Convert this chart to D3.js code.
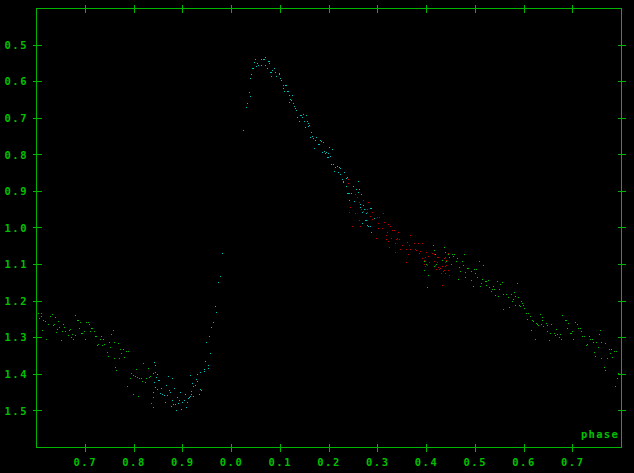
<!DOCTYPE html>
<html><head><meta charset="utf-8">
<script src="https://cdn.jsdelivr.net/npm/d3@7"></script>
<style>html,body{margin:0;padding:0;background:#000;}svg{display:block;}</style>
</head><body><svg id="c" width="634" height="473"></svg>
<script>
// ---- tick values / labels ----
const xTickValues = [-0.3,-0.2,-0.1,0.0,0.1,0.2,0.3,0.4,0.5,0.6,0.7];
const xTickLabels = ["0.7","0.8","0.9","0.0","0.1","0.2","0.3","0.4","0.5","0.6","0.7"];
const yTickValues = [0.5,0.6,0.7,0.8,0.9,1.0,1.1,1.2,1.3,1.4,1.5];
const yTickLabels = ["0.5","0.6","0.7","0.8","0.9","1.0","1.1","1.2","1.3","1.4","1.5"];
const xTitle = "phase";

// ---- observations: [phase, magnitude] ----
const greenPoints = [
[-0.398,1.220],[-0.394,1.234],[-0.389,1.234],[-0.392,1.250],[-0.388,1.242],[-0.384,1.253],[-0.380,1.256],[-0.386,1.281],[-0.378,1.305],[-0.375,1.264],
[-0.371,1.242],[-0.367,1.237],[-0.365,1.267],[-0.363,1.264],[-0.359,1.245],[-0.357,1.286],[-0.355,1.278],[-0.353,1.256],[-0.351,1.272],[-0.347,1.308],
[-0.345,1.283],[-0.343,1.264],[-0.341,1.272],[-0.339,1.283],[-0.334,1.294],[-0.332,1.281],[-0.330,1.278],[-0.328,1.300],[-0.326,1.292],[-0.324,1.305],
[-0.320,1.294],[-0.318,1.240],[-0.315,1.253],[-0.313,1.253],[-0.310,1.275],[-0.308,1.261],[-0.306,1.289],[-0.304,1.289],[-0.300,1.283],[-0.298,1.305],
[-0.296,1.259],[-0.293,1.259],[-0.291,1.264],[-0.289,1.283],[-0.287,1.275],[-0.285,1.275],[-0.279,1.283],[-0.277,1.297],[-0.275,1.297],[-0.273,1.322],
[-0.271,1.319],[-0.267,1.305],[-0.265,1.297],[-0.263,1.322],[-0.261,1.305],[-0.259,1.319],[-0.254,1.341],[-0.252,1.352],[-0.250,1.313],[-0.248,1.327],
[-0.246,1.292],[-0.242,1.281],[-0.240,1.313],[-0.238,1.357],[-0.236,1.382],[-0.234,1.390],[-0.230,1.316],[-0.228,1.357],[-0.226,1.333],[-0.224,1.344],
[-0.220,1.333],[-0.218,1.354],[-0.215,1.338],[-0.211,1.338],[-0.213,1.434],[-0.207,1.412],[-0.205,1.398],[-0.201,1.456],[-0.199,1.404],[-0.195,1.406],
[-0.193,1.387],[-0.191,1.409],[-0.189,1.461],[-0.187,1.412],[-0.183,1.412],[-0.181,1.420],[-0.179,1.371],[-0.176,1.423],[-0.174,1.412],[-0.170,1.385],
[-0.168,1.409],[-0.166,1.406],[-0.164,1.480],[-0.160,1.464],[-0.158,1.491],
[0.415,1.048],[0.417,1.062],[0.419,1.073],[0.396,1.092],[0.400,1.100],[0.421,1.100],[0.417,1.106],[0.396,1.117],[0.406,1.130],[0.404,1.163],
[0.437,1.056],[0.441,1.067],[0.447,1.075],[0.454,1.073],[0.456,1.078],[0.458,1.075],[0.449,1.081],[0.433,1.089],[0.443,1.092],[0.452,1.100],
[0.462,1.094],[0.464,1.086],[0.478,1.075],[0.474,1.094],[0.476,1.103],[0.468,1.108],[0.486,1.111],[0.488,1.111],[0.499,1.114],[0.509,1.092],
[0.517,1.105],[0.503,1.116],[0.470,1.119],[0.482,1.122],[0.493,1.119],[0.501,1.127],[0.480,1.138],[0.466,1.141],[0.493,1.144],[0.505,1.138],
[0.515,1.141],[0.497,1.160],
[0.513,1.152],[0.523,1.147],[0.525,1.147],[0.528,1.144],[0.546,1.147],[0.556,1.149],[0.587,1.152],[0.511,1.160],[0.525,1.158],[0.530,1.163],
[0.538,1.160],[0.536,1.169],[0.540,1.169],[0.552,1.155],[0.534,1.174],[0.550,1.169],[0.542,1.185],[0.548,1.188],[0.560,1.182],[0.566,1.182],
[0.575,1.182],[0.581,1.179],[0.569,1.190],[0.583,1.188],[0.589,1.190],[0.579,1.196],[0.577,1.201],[0.595,1.201],[0.597,1.207],[0.560,1.223],
[0.571,1.218],[0.591,1.212],[0.593,1.215],[0.583,1.212],[0.601,1.212],[0.603,1.221],[0.606,1.234],[0.610,1.234],[0.614,1.242],[0.608,1.251],
[0.618,1.253],[0.620,1.256],[0.616,1.281],[0.624,1.305],[0.630,1.267],[0.634,1.237],[0.640,1.245],[0.638,1.253],[0.626,1.262],[0.628,1.264],
[0.636,1.264],[0.642,1.270],[0.647,1.262],[0.649,1.267],[0.657,1.264],[0.649,1.283],[0.653,1.308],[0.655,1.289],[0.663,1.289],[0.667,1.278],
[0.665,1.294],[0.669,1.292],[0.673,1.300],[0.675,1.292],[0.677,1.305],[0.681,1.240],[0.686,1.253],[0.688,1.253],[0.692,1.262],[0.690,1.275],
[0.696,1.289],[0.698,1.289],[0.700,1.283],[0.702,1.305],[0.706,1.259],[0.710,1.264],[0.712,1.275],[0.716,1.275],[0.720,1.283],[0.722,1.297],
[0.726,1.297],[0.729,1.322],[0.731,1.319],[0.735,1.297],[0.737,1.305],[0.741,1.305],[0.743,1.314],[0.745,1.341],[0.747,1.352],[0.749,1.314],
[0.753,1.327],[0.755,1.292],[0.757,1.281],[0.759,1.314],[0.761,1.357],[0.769,1.316],[0.772,1.357],[0.776,1.333],[0.778,1.344],[0.780,1.333],
[0.782,1.355],[0.786,1.338],[0.790,1.338],[0.766,1.382],[0.768,1.390],[0.794,1.398],[0.792,1.412],[0.788,1.434]
];

const cyanPoints = [
[-0.156,1.368],[-0.154,1.376],[-0.158,1.398],[-0.154,1.396],[-0.152,1.409],[-0.150,1.401],[-0.156,1.423],[-0.154,1.437],[-0.160,1.450],[-0.148,1.417],
[-0.146,1.417],[-0.150,1.442],[-0.144,1.453],[-0.142,1.439],[-0.140,1.456],[-0.137,1.458],[-0.135,1.478],[-0.133,1.431],[-0.131,1.458],[-0.129,1.406],
[-0.127,1.445],[-0.125,1.450],[-0.123,1.488],[-0.121,1.412],[-0.119,1.472],[-0.117,1.483],[-0.115,1.439],[-0.113,1.483],[-0.111,1.499],[-0.109,1.464],
[-0.107,1.480],[-0.105,1.472],[-0.103,1.450],[-0.101,1.497],[-0.099,1.478],[-0.096,1.472],[-0.094,1.456],[-0.092,1.491],[-0.090,1.478],[-0.088,1.467],
[-0.086,1.464],[-0.084,1.461],[-0.084,1.404],[-0.082,1.456],[-0.080,1.448],[-0.078,1.426],[-0.076,1.434],[-0.076,1.461],[-0.072,1.431],[-0.070,1.415],
[-0.068,1.420],[-0.068,1.401],[-0.064,1.456],[-0.062,1.396],[-0.062,1.442],[-0.060,1.445],[-0.055,1.387],[-0.055,1.393],[-0.053,1.365],[-0.051,1.313],
[-0.047,1.376],[-0.047,1.385],[-0.045,1.297],[-0.043,1.344],[-0.039,1.272],[-0.035,1.259],[-0.031,1.215],[-0.029,1.231],[-0.025,1.149],[-0.021,1.133],
[-0.018,1.070],
[0.025,0.736],[0.031,0.673],[0.033,0.662],[0.039,0.643],[0.037,0.632],[0.041,0.594],[0.043,0.583],[0.045,0.566],[0.047,0.566],[0.049,0.550],
[0.051,0.542],[0.055,0.553],[0.057,0.556],[0.053,0.561],[0.062,0.558],[0.062,0.542],[0.066,0.542],[0.068,0.542],[0.070,0.536],[0.070,0.556],
[0.074,0.566],[0.076,0.547],[0.078,0.547],[0.078,0.553],[0.082,0.577],[0.084,0.575],[0.086,0.572],[0.084,0.586],[0.090,0.566],[0.092,0.577],
[0.094,0.588],[0.099,0.580],[0.099,0.583],[0.101,0.594],[0.103,0.599],[0.107,0.613],[0.111,0.613],[0.113,0.613],[0.107,0.621],[0.109,0.627],
[0.115,0.629],[0.117,0.627],[0.121,0.638],[0.127,0.638],[0.123,0.649],[0.119,0.657],[0.125,0.654],[0.129,0.662],[0.131,0.668],[0.133,0.676],
[0.135,0.681],[0.148,0.692],[0.142,0.695],[0.144,0.695],[0.154,0.695],[0.137,0.698],[0.146,0.698],[0.150,0.709],[0.140,0.711],[0.156,0.711],
[0.160,0.717],[0.162,0.722],[0.158,0.725],[0.152,0.728],[0.166,0.739],[0.168,0.750],[0.164,0.755],[0.170,0.758],[0.176,0.755],[0.174,0.761],
[0.179,0.772],[0.181,0.772],[0.183,0.763],[0.185,0.766],[0.189,0.769],[0.172,0.783],[0.187,0.796],[0.191,0.791],[0.193,0.799],[0.195,0.796],
[0.197,0.810],[0.199,0.810],[0.201,0.799],[0.203,0.780],[0.205,0.807],[0.209,0.788],[0.207,0.829],[0.211,0.829],[0.213,0.846],[0.215,0.835],
[0.218,0.832],[0.220,0.851],[0.222,0.837],[0.224,0.840],[0.224,0.856],[0.228,0.870],[0.230,0.873],[0.232,0.851],[0.230,0.878],[0.236,0.867],
[0.238,0.862],[0.236,0.889],[0.240,0.908],[0.242,0.908],[0.244,0.908],[0.248,0.908],[0.252,0.889],[0.257,0.897],[0.261,0.875],[0.261,0.903],
[0.263,0.895],[0.267,0.911],[0.244,0.925],[0.271,0.939],[0.273,0.951],[0.269,0.958],[0.265,0.944],[0.277,0.963],[0.279,0.952],[0.287,0.947],
[0.289,0.947],[0.275,0.980],[0.277,0.980],[0.283,0.997],[0.281,0.994],[0.287,0.997],[0.294,0.976],[0.289,1.014],[0.269,0.988],[0.254,0.928],
[0.265,0.936]
];

const redPoints = [
[0.242,0.870],[0.242,0.881],[0.255,0.909],[0.259,0.917],[0.271,0.925],[0.283,0.933],[0.263,0.933],[0.246,0.944],[0.267,0.950],[0.275,0.950],
[0.279,0.950],[0.271,0.955],[0.244,0.958],[0.281,0.958],[0.291,0.958],[0.255,0.963],[0.312,0.963],[0.287,0.969],[0.300,0.972],[0.304,0.972],
[0.291,0.977],[0.263,0.980],[0.279,0.980],[0.314,0.985],[0.302,0.988],[0.324,0.993],[0.250,0.996],[0.265,0.996],[0.328,0.996],[0.302,1.004],
[0.310,1.004],[0.332,1.007],[0.335,1.007],[0.322,1.013],[0.343,1.015],[0.369,1.021],[0.318,1.023],[0.298,1.029],[0.330,1.029],[0.341,1.029],
[0.318,1.032],[0.339,1.032],[0.345,1.034],[0.324,1.037],[0.363,1.040],[0.337,1.043],[0.376,1.045],[0.384,1.045],[0.392,1.045],[0.351,1.048],
[0.367,1.048],[0.326,1.054],[0.347,1.059],[0.359,1.059],[0.369,1.059],[0.378,1.059],[0.380,1.062],[0.388,1.065],[0.337,1.067],[0.400,1.067],
[0.386,1.070],[0.413,1.070],[0.365,1.075],[0.417,1.075],[0.406,1.078],[0.398,1.081],[0.423,1.081],[0.425,1.081],[0.441,1.081],[0.392,1.086],
[0.438,1.086],[0.396,1.089],[0.398,1.092],[0.417,1.092],[0.408,1.095],[0.423,1.095],[0.441,1.095],[0.361,1.097],[0.396,1.100],[0.404,1.103],
[0.419,1.103],[0.398,1.106],[0.433,1.106],[0.441,1.106],[0.425,1.108],[0.429,1.111],[0.427,1.114],[0.421,1.114],[0.437,1.117],[0.447,1.117],
[0.435,1.119],[0.441,1.125],[0.431,1.127],[0.449,1.130],[0.433,1.158],[0.447,1.070],[0.443,1.089],[0.443,1.105]
];

// ---- chart ----
const W = 634, H = 473;
const frame = {left:36, right:621, top:8, bottom:447};
const axisColor = "#00b400";
const textColor = "#00c000";
const seriesColors = {green:"#00c000", cyan:"#00c0c0", red:"#c00000"};

const svg = d3.select("#c");
svg.append("rect").attr("width",W).attr("height",H).attr("fill","#000");

const x = d3.scaleLinear().domain([-0.4,0.8]).range([frame.left, frame.right]);
const y = d3.scaleLinear().domain([0.4,1.6]).range([frame.top, frame.bottom]);

// points
function drawPts(data, color){
  svg.append("g").selectAll("rect").data(data).join("rect")
    .attr("x", d => Math.floor(x(d[0])))
    .attr("y", d => Math.floor(y(d[1])))
    .attr("width", 1.4).attr("height", 1.4)
    .attr("fill", color)
    .attr("shape-rendering","crispEdges");
}
drawPts(greenPoints, seriesColors.green);
drawPts(cyanPoints, seriesColors.cyan);
drawPts(redPoints, seriesColors.red);

// frame
svg.append("rect")
  .attr("x", frame.left+0.5).attr("y", frame.top+0.5)
  .attr("width", frame.right-frame.left).attr("height", frame.bottom-frame.top)
  .attr("fill","none").attr("stroke",axisColor).attr("stroke-width",1)
  .attr("shape-rendering","crispEdges");

const font = "'DejaVu Sans Mono', monospace";
const tk = 4;
const g = svg.append("g").attr("stroke",axisColor).attr("stroke-width",1).attr("shape-rendering","crispEdges");
// x ticks (bottom & top)
xTickValues.forEach(v => {
  const px = Math.round(x(v)) + 0.5;
  g.append("line").attr("x1",px).attr("x2",px).attr("y1",frame.bottom-tk+0.5).attr("y2",frame.bottom+tk+0.5);
  g.append("line").attr("x1",px).attr("x2",px).attr("y1",frame.top-tk+0.5).attr("y2",frame.top+tk+0.5);
});
// y ticks (left & right)
yTickValues.forEach(v => {
  const py = Math.round(y(v)) + 0.5;
  g.append("line").attr("y1",py).attr("y2",py).attr("x1",frame.left-tk+0.5).attr("x2",frame.left+tk+1.5);
  g.append("line").attr("y1",py).attr("y2",py).attr("x1",frame.right-tk+0.5).attr("x2",frame.right+tk+0.5);
});

// labels via d3 axes (ticks hidden)
const xAxis = d3.axisBottom(x).tickValues(xTickValues).tickSize(0).tickPadding(0)
  .tickFormat((d,i) => xTickLabels[i]);
const gx = svg.append("g").attr("transform",`translate(0,${frame.bottom+18})`).call(xAxis);
gx.select(".domain").remove();
gx.selectAll("text").attr("fill",textColor).attr("font-family",font).attr("font-weight","bold")
  .attr("font-size","10.5px").attr("letter-spacing","1.5px").attr("dy","0.1em");

const yAxis = d3.axisLeft(y).tickValues(yTickValues).tickSize(0).tickPadding(0)
  .tickFormat((d,i) => yTickLabels[i]);
const gy = svg.append("g").attr("transform",`translate(${frame.left-8},0)`).call(yAxis);
gy.select(".domain").remove();
gy.selectAll("text").attr("fill",textColor).attr("font-family",font).attr("font-weight","bold")
  .attr("font-size","10.5px").attr("letter-spacing","1.5px").attr("dy","0.35em");

svg.append("text").attr("x", frame.right-2).attr("y", frame.bottom-9)
  .attr("text-anchor","end").attr("fill",textColor).attr("font-family",font)
  .attr("font-weight","bold").attr("font-size","10.5px").attr("letter-spacing","1.3px")
  .text(xTitle);
</script></body></html>
